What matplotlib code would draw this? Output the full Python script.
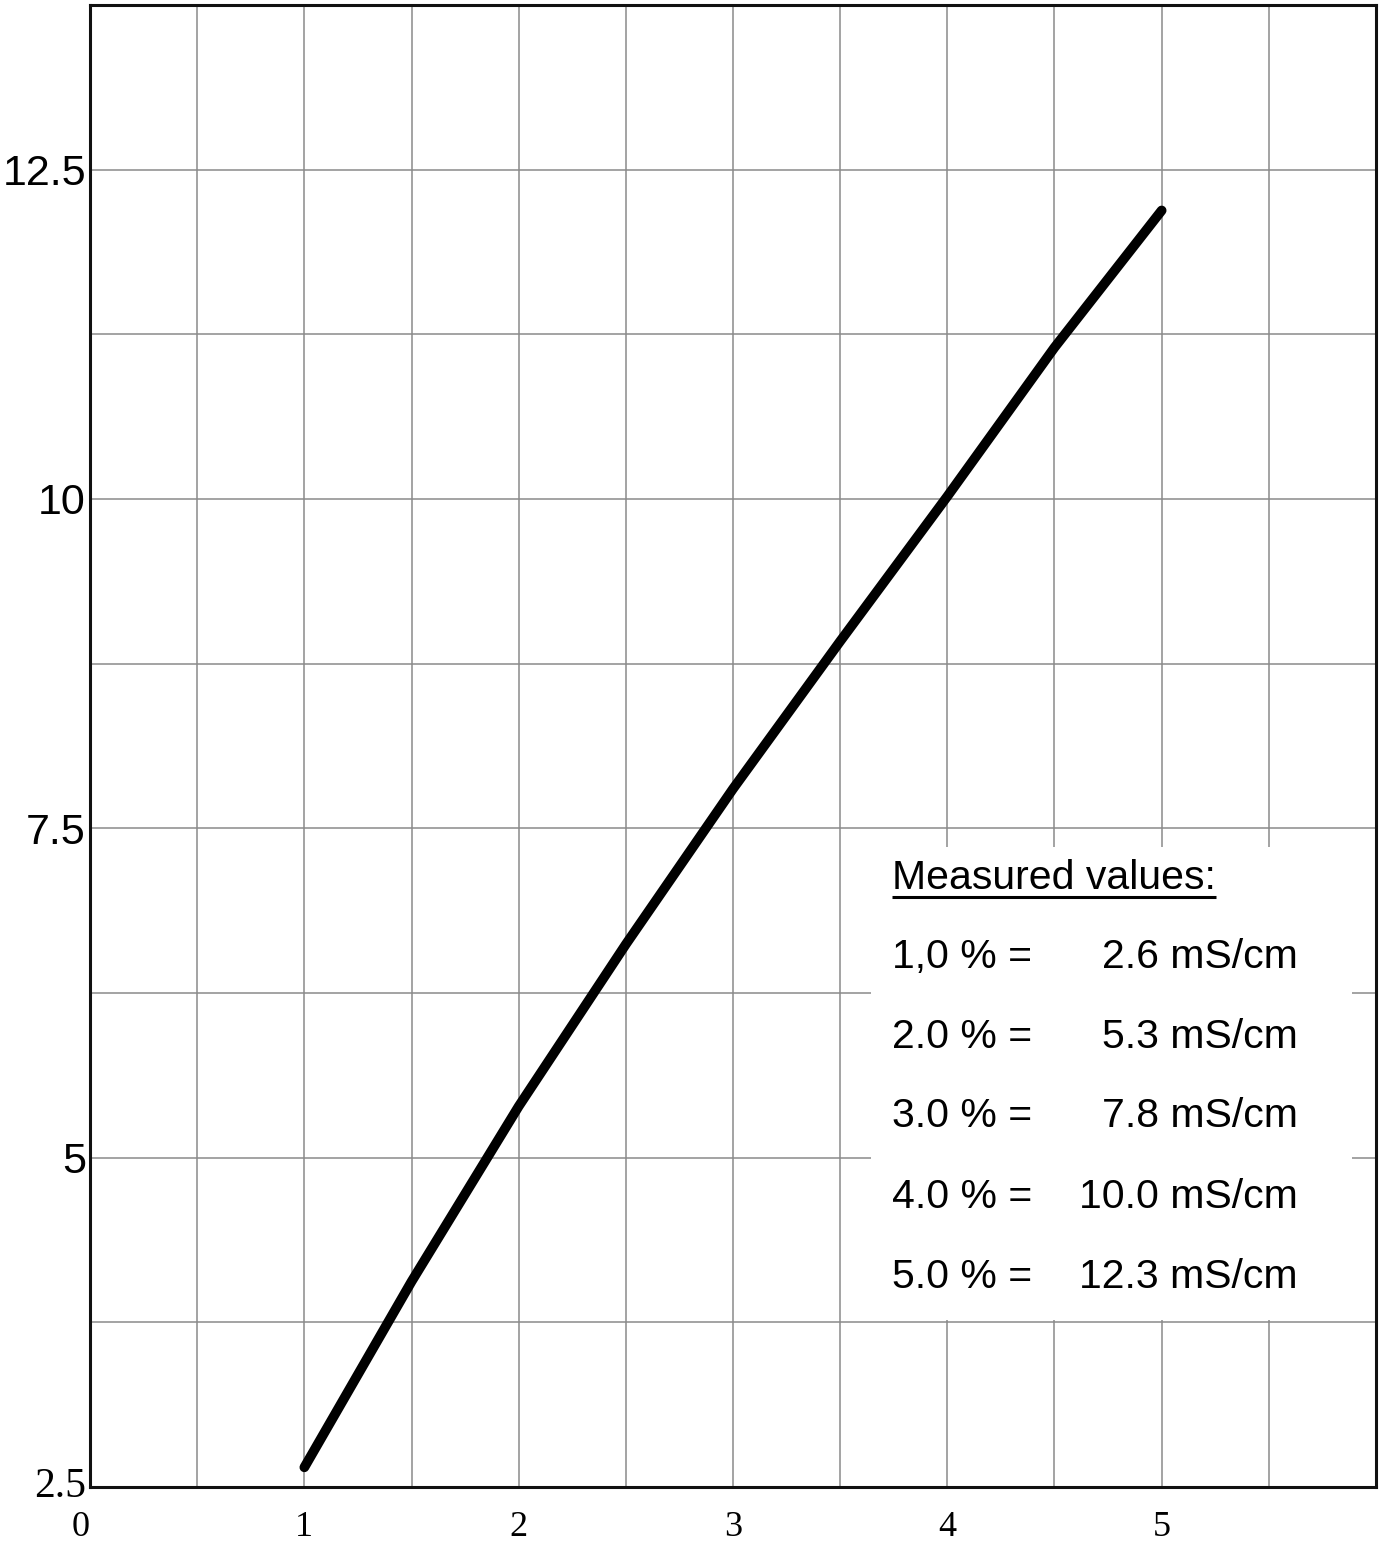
import matplotlib
matplotlib.use("Agg")
import matplotlib.pyplot as plt
from matplotlib.patches import Rectangle
import numpy as np

# curve (concentration % -> conductivity mS/cm)
curve_x = [1.0, 1.5, 2.0, 2.5, 3.0, 3.5, 4.0, 4.5, 5.0]
curve_y = [2.65, 4.06, 5.39, 6.62, 7.80, 8.92, 10.02, 11.15, 12.19]

# table in the box
conc_labels = ["1,0 %", "2.0 %", "3.0 %", "4.0 %", "5.0 %"]
measured = [2.6, 5.3, 7.8, 10.0, 12.3]

x_ticks = [0, 1, 2, 3, 4, 5]
y_ticks = [2.5, 5, 7.5, 10, 12.5]
y_tick_labels = ["2.5", "5", "7.5", "10", "12.5"]

SANS = ["Liberation Sans", "DejaVu Sans"]
SERIF = ["Liberation Serif", "DejaVu Serif"]

fig = plt.figure(figsize=(13.79, 15.5), dpi=100)
ax = fig.add_axes([0.0653, 0.0406, 0.9325, 0.9562])

ax.set_xlim(0, 6)
ax.set_ylim(2.5, 13.75)

# grid
for gx in np.arange(0.5, 6, 0.5):
    ax.axvline(gx, color="#8a8a8a", linewidth=1.1, zorder=1)
for gy in np.arange(3.75, 13.75, 1.25):
    ax.axhline(gy, color="#8a8a8a", linewidth=1.1, zorder=1)

# white box behind the table
ax.add_patch(Rectangle((3.645, 3.77), 2.245, 3.59, facecolor="white",
                       edgecolor="none", zorder=2))

ax.plot(curve_x, curve_y, color="black", linewidth=7,
        solid_capstyle="round", solid_joinstyle="round", zorder=3)

# table text
title = ax.text(3.743, 7.04, "Measured values:", fontsize=29.5, family=SANS,
                ha="left", va="baseline", zorder=4)
row_y = [6.44, 5.83, 5.23, 4.62, 4.01]
for lab, val, yy in zip(conc_labels, measured, row_y):
    ax.text(3.743, yy, f"{lab} =", fontsize=29.5, family=SANS,
            ha="left", va="baseline", zorder=4)
    ax.text(5.636, yy, f"{val:.1f} mS/cm", fontsize=29.5, family=SANS,
            ha="right", va="baseline", zorder=4)

# underline the heading
fig.canvas.draw()
bb = title.get_window_extent().transformed(ax.transData.inverted())
ax.plot([bb.x0, bb.x1], [6.98, 6.98], color="black", linewidth=2.2,
        solid_capstyle="butt", zorder=4)

for s in ax.spines.values():
    s.set_linewidth(2.2)
    s.set_color("#111111")
    s.set_zorder(5)

ax.tick_params(axis="y", length=0, pad=3)
ax.tick_params(axis="x", length=0, pad=17)
ax.set_xticks(x_ticks)
ax.set_xticklabels([str(v) for v in x_ticks], fontsize=26, family=SERIF)
ax.set_yticks(y_ticks)
ax.set_yticklabels(y_tick_labels, fontsize=31, family=SANS)
ytl = ax.get_yticklabels()
ytl[0].set_family(SERIF)
ytl[0].set_fontsize(30)
ytl[0].set_va("center")
xtl = ax.get_xticklabels()
xtl[0].set_ha("right")

fig.savefig("out.png", dpi=100)
